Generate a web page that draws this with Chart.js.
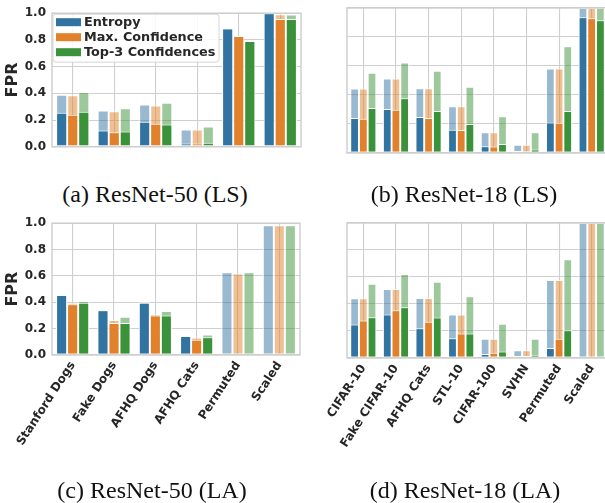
<!DOCTYPE html>
<html><head><meta charset="utf-8">
<script src="https://cdn.jsdelivr.net/npm/chart.js@4"></script>
<style>
html,body{margin:0;padding:0;background:#fff;overflow:hidden;width:605px;height:503px;position:relative;}
canvas{position:absolute;}
.cap{position:absolute;font-family:"Liberation Serif","Times New Roman",serif;font-size:24px;color:#111;white-space:nowrap;transform:translate(-50%,-50%);line-height:1;}
</style></head><body>
<canvas id="ca" width="305" height="160" style="left:0;top:0"></canvas>
<canvas id="cb" width="310" height="160" style="left:300px;top:0"></canvas>
<canvas id="cc" width="305" height="270" style="left:0;top:210px"></canvas>
<canvas id="cd" width="310" height="270" style="left:300px;top:210px"></canvas>
<div class="cap" style="left:155px;top:194px">(a) ResNet-50 (LS)</div>
<div class="cap" style="left:464px;top:194px">(b) ResNet-18 (LS)</div>
<div class="cap" style="left:152px;top:490px">(c) ResNet-50 (LA)</div>
<div class="cap" style="left:465px;top:490px">(d) ResNet-18 (LA)</div>
<script>
// ---- data ----
const catsResNet50 = ['Stanford Dogs', 'Fake Dogs', 'AFHQ Dogs', 'AFHQ Cats', 'Permuted', 'Scaled'];
const catsResNet18 = ['CIFAR-10', 'Fake CIFAR-10', 'AFHQ Cats', 'STL-10', 'CIFAR-100', 'SVHN', 'Permuted', 'Scaled'];
const seriesNames = ['Entropy', 'Max. Confidence', 'Top-3 Confidences'];
const yTickValues = [0.0, 0.2, 0.4, 0.6, 0.8, 1.0];

// (a) ResNet-50 (LS): solid = low, light = high
const a_entropyLow  = [0.254, 0.122, 0.187, 0.025, 0.885, 1.0];
const a_entropyHigh = [0.390, 0.272, 0.316, 0.129, 0.887, 1.0];
const a_maxLow      = [0.240, 0.108, 0.173, 0.025, 0.829, 0.956];
const a_maxHigh     = [0.386, 0.266, 0.309, 0.129, 0.831, 0.993];
const a_top3Low     = [0.263, 0.115, 0.166, 0.030, 0.792, 0.956];
const a_top3High    = [0.410, 0.289, 0.330, 0.152, 0.795, 0.990];

// (b) ResNet-18 (LS)
const b_entropyLow  = [0.241, 0.303, 0.248, 0.161, 0.046, 0.014, 0.211, 0.936];
const b_entropyHigh = [0.444, 0.513, 0.446, 0.322, 0.143, 0.057, 0.582, 1.0];
const b_maxLow      = [0.237, 0.299, 0.241, 0.159, 0.044, 0.011, 0.209, 0.929];
const b_maxHigh     = [0.444, 0.513, 0.446, 0.322, 0.143, 0.057, 0.582, 1.0];
const b_top3Low     = [0.310, 0.377, 0.290, 0.200, 0.062, 0.025, 0.290, 0.915];
const b_top3High    = [0.554, 0.625, 0.568, 0.457, 0.253, 0.143, 0.736, 1.0];

// (c) ResNet-50 (LA)
const c_entropyLow  = [0.455, 0.340, 0.397, 0.145, 0, 0];
const c_entropyHigh = [0.457, 0.342, 0.400, 0.147, 0.628, 0.985];
const c_maxLow      = [0.385, 0.243, 0.300, 0.115, 0, 0];
const c_maxHigh     = [0.397, 0.265, 0.310, 0.132, 0.618, 0.985];
const c_top3Low     = [0.397, 0.243, 0.300, 0.135, 0, 0];
const c_top3High    = [0.410, 0.290, 0.333, 0.155, 0.628, 0.985];

// (d) ResNet-18 (LA)
const d_entropyLow  = [0.248, 0.322, 0.221, 0.147, 0.029, 0.015, 0.074, 0];
const d_entropyHigh = [0.442, 0.511, 0.445, 0.322, 0.142, 0.057, 0.577, 1.0];
const d_maxLow      = [0.278, 0.354, 0.268, 0.182, 0.039, 0.015, 0.142, 0];
const d_maxHigh     = [0.442, 0.511, 0.445, 0.322, 0.142, 0.057, 0.577, 1.0];
const d_top3Low     = [0.302, 0.376, 0.300, 0.182, 0.049, 0.025, 0.206, 0];
const d_top3High    = [0.550, 0.622, 0.565, 0.457, 0.253, 0.142, 0.732, 1.0];

// ---- styles ----
const solidColors = ['#3274a1', '#e1812c', '#3a923a'];
const lightColors = ['rgba(50,116,161,0.5)', 'rgba(225,129,44,0.5)', 'rgba(58,146,58,0.5)'];
const stacks = ['e', 'm', 't'];
const GRID = '#cfcfcf';
const TXT = '#262626';
const FONT = '"DejaVu Sans", sans-serif';

function makeDatasets(lows, highs) {
  const ds = [];
  lows.forEach((v, i) => ds.push({ label: seriesNames[i], data: v, backgroundColor: solidColors[i], borderColor: '#ffffff', borderWidth: 1, borderSkipped: false, stack: stacks[i], categoryPercentage: 0.8, barPercentage: 1.0 }));
  highs.forEach((v, i) => ds.push({ label: seriesNames[i] + ' (upper)', data: v, backgroundColor: lightColors[i], borderColor: 'rgba(255,255,255,0.8)', borderWidth: 1, borderSkipped: false, stack: stacks[i], categoryPercentage: 0.8, barPercentage: 1.0 }));
  return ds;
}

const framePlugin = {
  id: 'frame',
  afterDatasetsDraw(chart) {
    const { ctx, chartArea: a } = chart;
    ctx.save();
    ctx.strokeStyle = '#cccccc';
    ctx.lineWidth = 1.4;
    ctx.strokeRect(a.left, a.top, a.right - a.left, a.bottom - a.top);
    ctx.restore();
  }
};

const legendPlugin = {
  id: 'innerLegend',
  afterDraw(chart, args, opts) {
    if (!opts || !opts.show) return;
    const ctx = chart.ctx;
    const a = chart.chartArea;
    const x = a.left + 1, y = a.top + 1, w = 166, h = 48;
    ctx.save();
    ctx.fillStyle = 'rgba(255,255,255,0.85)';
    ctx.strokeStyle = '#d6d6d6';
    ctx.lineWidth = 1;
    const r = 3;
    ctx.beginPath();
    ctx.moveTo(x + r, y); ctx.lineTo(x + w - r, y); ctx.quadraticCurveTo(x + w, y, x + w, y + r);
    ctx.lineTo(x + w, y + h - r); ctx.quadraticCurveTo(x + w, y + h, x + w - r, y + h);
    ctx.lineTo(x + r, y + h); ctx.quadraticCurveTo(x, y + h, x, y + h - r);
    ctx.lineTo(x, y + r); ctx.quadraticCurveTo(x, y, x + r, y);
    ctx.closePath(); ctx.fill(); ctx.stroke();
    ctx.font = 'bold 12.8px ' + FONT;
    ctx.textBaseline = 'middle';
    seriesNames.forEach((n, i) => {
      const cy = y + 8 + i * 15;
      ctx.fillStyle = solidColors[i];
      ctx.fillRect(x + 3, cy - 4, 25, 8);
      ctx.fillStyle = TXT;
      ctx.fillText(n, x + 31, cy + 0.5);
    });
    ctx.restore();
  }
};

function makeChart(id, cats, lows, highs, cfg) {
  new Chart(document.getElementById(id), {
    type: 'bar',
    data: { labels: cats, datasets: makeDatasets(lows, highs) },
    plugins: [framePlugin, legendPlugin],
    options: {
      responsive: false,
      animation: false,
      events: [],
      layout: { padding: cfg.padding },
      plugins: { legend: { display: false }, tooltip: { enabled: false }, innerLegend: { show: !!cfg.legend } },
      scales: {
        x: {
          grid: { color: GRID, lineWidth: 1.1, offset: false, drawTicks: false },
          border: { display: false },
          ticks: {
            display: cfg.showX,
            autoSkip: false,
            minRotation: 57, maxRotation: 57,
            padding: 4,
            color: TXT,
            font: { family: FONT, weight: 'bold', size: 12 }
          },
          afterFit(s) { s.height = cfg.xH; }
        },
        y: {
          stacked: false,
          min: 0, max: 1,
          afterBuildTicks(s) { s.ticks = yTickValues.map(v => ({ value: v })); },
          grid: { color: GRID, lineWidth: 1.1, drawTicks: false },
          border: { display: false },
          ticks: {
            display: cfg.showY,
            padding: 6,
            color: TXT,
            font: { family: FONT, weight: 'bold', size: 12 },
            callback: v => Number(v).toFixed(1)
          },
          title: {
            display: cfg.showY,
            text: 'FPR',
            color: TXT,
            font: { family: FONT, weight: 'bold', size: 16 },
            padding: { top: 3, bottom: 0 }
          },
          afterFit(s) { s.width = cfg.yW; }
        }
      }
    }
  });
}

makeChart('ca', catsResNet50,
  [a_entropyLow, a_maxLow, a_top3Low], [a_entropyHigh, a_maxHigh, a_top3High],
  { padding: { top: 8, right: 4, bottom: 7, left: 0 }, showX: false, showY: true, xH: 0, yW: 52, legend: true });
makeChart('cb', catsResNet18,
  [b_entropyLow, b_maxLow, b_top3Low], [b_entropyHigh, b_maxHigh, b_top3High],
  { padding: { top: 8, right: 2, bottom: 7, left: 0 }, showX: false, showY: false, xH: 0, yW: 47 });
makeChart('cc', catsResNet50,
  [c_entropyLow, c_maxLow, c_top3Low], [c_entropyHigh, c_maxHigh, c_top3High],
  { padding: { top: 13, right: 5, bottom: 0, left: 0 }, showX: true, showY: true, xH: 125, yW: 52 });
makeChart('cd', catsResNet18,
  [d_entropyLow, d_maxLow, d_top3Low], [d_entropyHigh, d_maxHigh, d_top3High],
  { padding: { top: 13, right: 2, bottom: 0, left: 0 }, showX: true, showY: false, xH: 122, yW: 47 });
</script>
</body></html>
